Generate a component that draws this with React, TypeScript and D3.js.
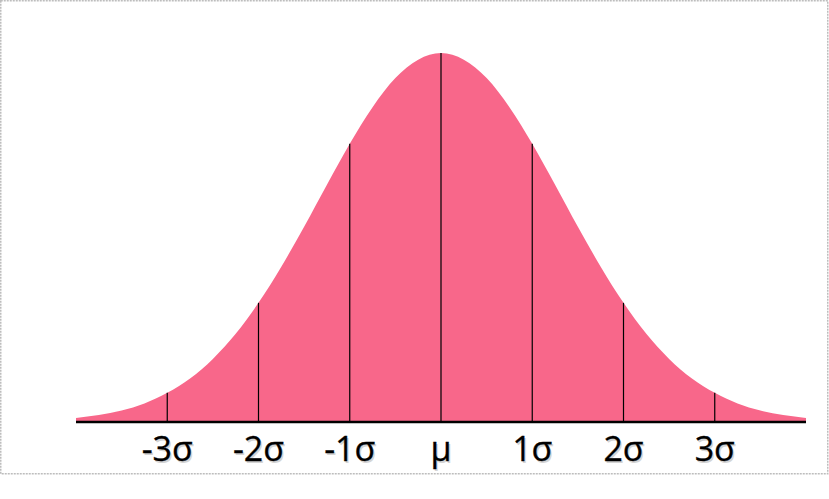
import React from "react";
import * as d3 from "d3";

// Curve values (relative height, peak = 1) at x in sigma-label units
const curveX = [-4, -3.75, -3.5, -3.25, -3, -2.75, -2.5, -2.25, -2, -1.75, -1.5, -1.25, -1, -0.75, -0.5, -0.25, 0,
  0.25, 0.5, 0.75, 1, 1.25, 1.5, 1.75, 2, 2.25, 2.5, 2.75, 3, 3.25, 3.5, 3.75, 4];
const curveY = [0.011, 0.019, 0.031, 0.05, 0.079, 0.118, 0.171, 0.239, 0.323, 0.421, 0.529, 0.643, 0.754, 0.853, 0.932, 0.982, 1,
  0.982, 0.932, 0.853, 0.754, 0.643, 0.529, 0.421, 0.323, 0.239, 0.171, 0.118, 0.079, 0.05, 0.031, 0.019, 0.011];

const tickPositions = [-3, -2, -1, 0, 1, 2, 3];
const tickLabels = ["-3σ", "-2σ", "-1σ", "μ", "1σ", "2σ", "3σ"];

const W = 829;
const H = 499;

export default function App() {
  const x = d3.scaleLinear().domain([-4, 4]).range([76, 806]);
  const y = d3.scaleLinear().domain([0, 1]).range([422, 53]);
  const pts: [number, number][] = curveX.map((v, i) => [v, curveY[i]]);
  const area = d3
    .area<[number, number]>()
    .x((d) => x(d[0]))
    .y0(y(0))
    .y1((d) => y(d[1]))
    .curve(d3.curveMonotoneX);
  const interp = (v: number) => {
    const i = curveX.indexOf(v);
    return curveY[i];
  };
  return (
    <svg
      width={W}
      height={H}
      style={{ position: "absolute", left: 0, top: 0, background: "#fff" }}
    >
      <rect x={0.75} y={0.75} width={827} height={473} fill="#fff" stroke="#bdbdbd" strokeWidth={1.5} strokeDasharray="2 1" />
      <path d={area(pts) || ""} fill="#F8678A" />
      {tickPositions.map((t) => (
        <line key={t} x1={x(t)} x2={x(t)} y1={y(interp(t))} y2={y(0)} stroke="#000" strokeWidth={1.2} />
      ))}
      <line x1={x(-4)} x2={x(4)} y1={422} y2={422} stroke="#000" strokeWidth={2.5} />
      {tickPositions.map((t, i) => (
        <g key={"l" + t} fontFamily="'Open Sans', sans-serif" fontSize={34} textAnchor="middle">
          <text x={x(t) + 1.5} y={462.5} fill="#aaa" opacity={0.5}>{tickLabels[i]}</text>
          <text x={x(t)} y={461} fill="#000" stroke="#000" strokeWidth={0.3}>{tickLabels[i]}</text>
        </g>
      ))}
    </svg>
  );
}
